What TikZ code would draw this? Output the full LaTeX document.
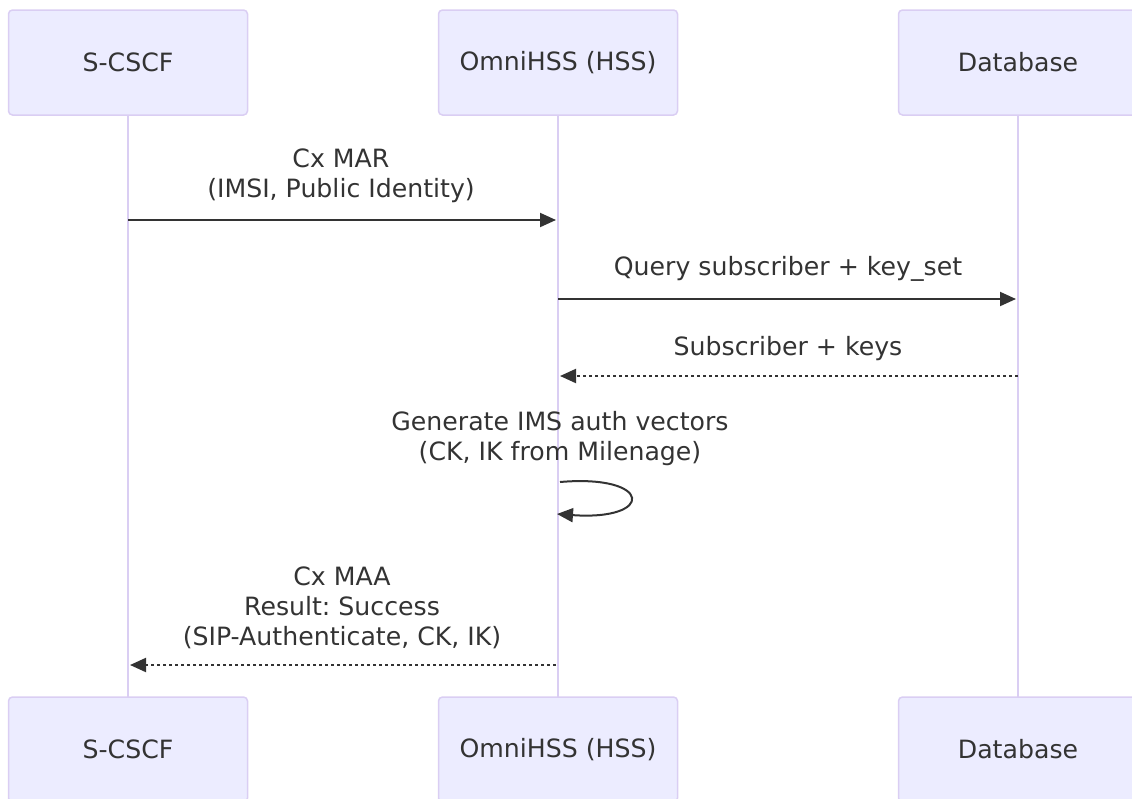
\documentclass[tikz,border=0pt]{standalone}
\usepackage{fontspec}
\setmainfont{DejaVu Sans}
\usetikzlibrary{arrows.meta}
\frenchspacing
\definecolor{actfill}{HTML}{ECECFF}
\definecolor{actline}{HTML}{DACEF3}
\definecolor{txt}{HTML}{333333}
\tikzset{
  actor/.style={draw=actline, fill=actfill, line width=1.5pt, rounded corners=4pt,
    minimum width=239pt, minimum height=105pt, inner sep=0pt, text=txt,
    font=\fontsize{25.2}{30}\selectfont},
  life/.style={draw=actline, line width=2pt},
  msg/.style={draw=txt, line width=2pt, -{Triangle[length=16pt,width=14pt]}},
  reply/.style={msg, dash pattern=on 3pt off 3pt},
  lbl/.style={text=txt, align=center, inner sep=0pt, font=\fontsize{25.2}{30}\selectfont\frenchspacing},
}
\begin{document}
\begin{tikzpicture}[x=1pt,y=-1pt]
\useasboundingbox (0,0) rectangle (1132,798);
% lifelines
\coordinate (aT) at (128,115); \coordinate (aB) at (128,697);
\coordinate (hT) at (558,115); \coordinate (hB) at (558,697);
\coordinate (dT) at (1018,115); \coordinate (dB) at (1018,697);
\draw[life] (aT) -- (aB);
\draw[life] (hT) -- (hB);
\draw[life] (dT) -- (dB);
% actors
\node[actor] (a1) at (128,62.5) {S-CSCF};
\node[actor] (h1) at (558,62.5) {OmniHSS (HSS)};
\node[actor] (d1) at (1018,62.5) {Database};
\node[actor] (a2) at (128,749.5) {S-CSCF};
\node[actor] (h2) at (558,749.5) {OmniHSS (HSS)};
\node[actor] (d2) at (1018,749.5) {Database};
% message 1
\coordinate (m1a) at (128,220); \coordinate (m1b) at (556,220);
\draw[msg] (m1a) -- (m1b);
\node[lbl] (t1) at (341,176) {Cx MAR\\(IMSI, Public Identity)};
% message 2
\coordinate (m2a) at (558,299); \coordinate (m2b) at (1016,299);
\draw[msg] (m2a) -- (m2b);
\node[lbl] (t2) at (788,269) {Query subscriber + key\_set};
% message 3
\coordinate (m3a) at (1018,376); \coordinate (m3b) at (560,376);
\draw[reply] (m3a) -- (m3b);
\node[lbl] (t3) at (788,349) {Subscriber + keys};
% self message
\coordinate (s1) at (560,482); \coordinate (s2) at (557,514);
\draw[msg] (s1) .. controls (653,474) and (655,521) .. (s2);
\node[lbl] (t4) at (560,439) {Generate IMS auth vectors\\(CK, IK from Milenage)};
% message 5
\coordinate (m5a) at (556,665); \coordinate (m5b) at (130,665);
\draw[reply] (m5a) -- (m5b);
\node[lbl] (t5) at (342,608) {Cx MAA\\Result: Success\\(SIP-Authenticate, CK, IK)};
\end{tikzpicture}
\end{document}
